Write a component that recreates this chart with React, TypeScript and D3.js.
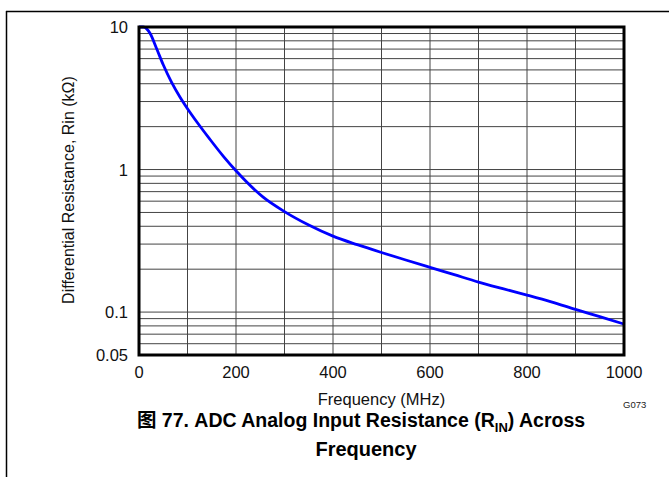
import React from "react";
import * as d3 from "d3";

const freqMHz = [0, 9, 23, 36, 50, 67, 85, 100, 122, 146, 174, 200, 256, 300, 350, 400, 450, 500, 550, 600, 650, 700, 750, 800, 850, 900, 950, 1000];
const rinKOhm = [10, 10, 9.0, 7.1, 5.43, 4.1, 3.2, 2.67, 2.095, 1.634, 1.238, 0.98, 0.64, 0.507, 0.408, 0.341, 0.297, 0.2617, 0.232, 0.206, 0.183, 0.1625, 0.146, 0.1316, 0.118, 0.1045, 0.093, 0.0824];
const xTicks = [0, 200, 400, 600, 800, 1000];
const xGrid = [100, 200, 300, 400, 500, 600, 700, 800, 900];
const yTicks = [10, 1, 0.1, 0.05];
const yTickLabels = ["10", "1", "0.1", "0.05"];
const yGrid = [0.06, 0.07, 0.08, 0.09, 0.1, 0.2, 0.3, 0.4, 0.5, 0.6, 0.7, 0.8, 0.9, 1, 2, 3, 4, 5, 6, 7, 8, 9];

const W = 669;
const H = 477;
const L = 139, R = 624, T = 27, B = 355;
const FONT = "'Liberation Sans', Arial, 'Noto Sans CJK SC', sans-serif";

export default function App() {
  const x = d3.scaleLinear().domain([0, 1000]).range([L, R]);
  const y = d3.scaleLog().domain([0.05, 10]).range([B, T]);
  const pts = freqMHz.map((f, i) => [f, rinKOhm[i]] as [number, number]);
  const line = d3
    .line<[number, number]>()
    .x((d) => x(d[0]))
    .y((d) => y(d[1]))
    .curve(d3.curveMonotoneX);

  return (
    <svg width={W} height={H} style={{ position: "absolute", left: 0, top: 0, background: "#fff" }}>
      {/* outer frame */}
      <line x1={6} y1={11.5} x2={W} y2={11.5} stroke="#000" strokeWidth={1.5} />
      <line x1={6.5} y1={11} x2={6.5} y2={H} stroke="#000" strokeWidth={1.5} />

      {/* grid */}
      {xGrid.map((v) => (
        <line key={"xg" + v} x1={x(v)} x2={x(v)} y1={T} y2={B} stroke="#444" strokeWidth={1} />
      ))}
      {yGrid.map((v) => (
        <line key={"yg" + v} x1={L} x2={R} y1={y(v)} y2={y(v)} stroke="#444" strokeWidth={1} />
      ))}

      {/* curve */}
      <path d={line(pts) || ""} fill="none" stroke="#0000ff" strokeWidth={2.8} />

      {/* plot border */}
      <rect x={L} y={T} width={R - L} height={B - T} fill="none" stroke="#000" strokeWidth={3} />

      {/* y tick labels */}
      {yTicks.map((v, i) => (
        <text key={"yt" + v} x={128} y={y(v) + 6} textAnchor="end" fontFamily={FONT} fontSize={16.5} fill="#111">
          {yTickLabels[i]}
        </text>
      ))}
      {/* x tick labels */}
      {xTicks.map((v) => (
        <text key={"xt" + v} x={x(v)} y={378} textAnchor="middle" fontFamily={FONT} fontSize={16.5} fill="#111">
          {v}
        </text>
      ))}

      <text x={(L + R) / 2} y={405} textAnchor="middle" fontFamily={FONT} fontSize={16.5} fill="#111">
        Frequency (MHz)
      </text>
      <text
        transform={`translate(74, 190) rotate(-90)`}
        textAnchor="middle"
        fontFamily={FONT}
        fontSize={16}
        fill="#111"
      >
        Differential Resistance, Rin (kΩ)
      </text>
      <text x={623} y={408} fontFamily={FONT} fontSize={9.5} fill="#222">
        G073
      </text>

      <text x={361} y={427} textAnchor="middle" fontFamily={FONT} fontSize={19.5} fontWeight="bold" fill="#000">
        图 77. ADC Analog Input Resistance (R
        <tspan fontSize={13} dy={5}>IN</tspan>
        <tspan dy={-5}>) Across</tspan>
      </text>
      <text x={366} y={456} textAnchor="middle" fontFamily={FONT} fontSize={20} fontWeight="bold" fill="#000">
        Frequency
      </text>
    </svg>
  );
}
